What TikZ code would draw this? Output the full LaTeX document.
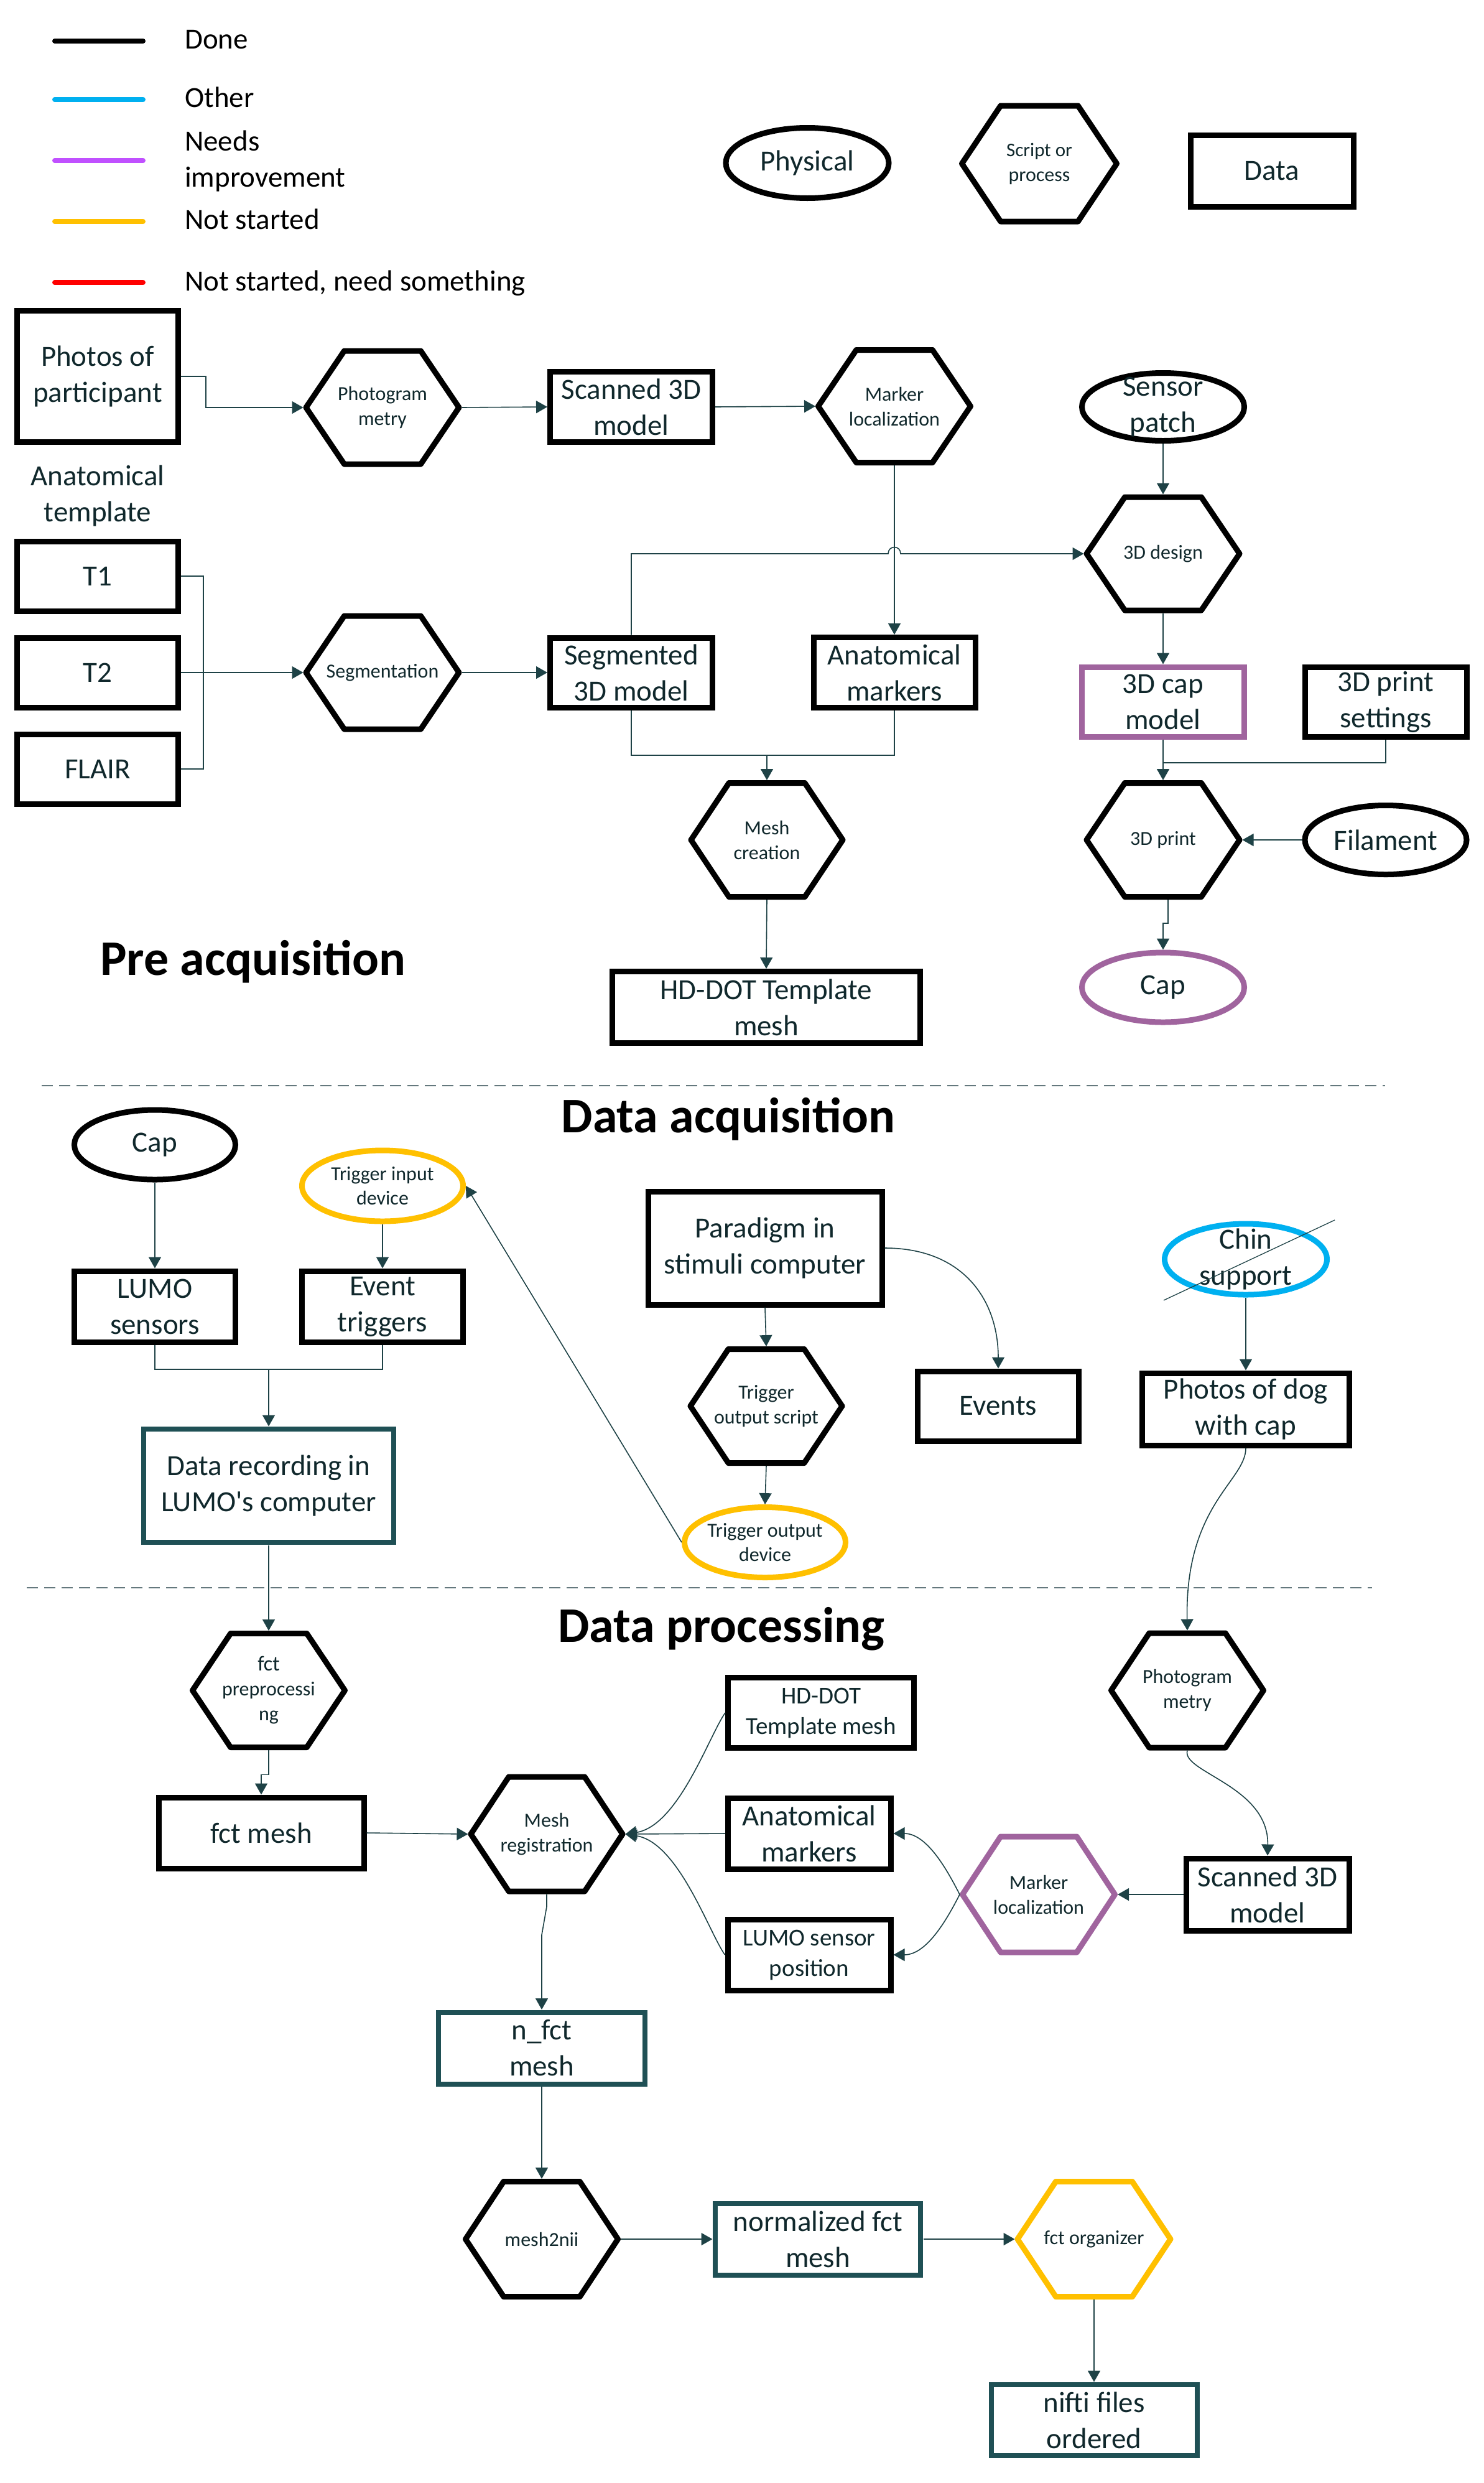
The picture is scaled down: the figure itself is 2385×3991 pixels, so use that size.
\documentclass[tikz,border=0pt]{standalone}
\usepackage{fontspec}
\setmainfont{Carlito}
\usetikzlibrary{shapes.geometric,arrows.meta,calc}
\definecolor{txtc}{RGB}{16,40,44}
\definecolor{lnc}{RGB}{30,66,70}
\definecolor{tealc}{RGB}{31,80,85}
\definecolor{purpc}{RGB}{160,100,158}
\definecolor{yelc}{RGB}{255,192,0}
\definecolor{cyanc}{RGB}{0,176,240}
\definecolor{legpurp}{RGB}{192,80,255}
\definecolor{dashc}{RGB}{100,120,125}
\newcommand\fsz[2]{\fontsize{#1pt}{#2pt}\selectfont}
\tikzset{
  box/.style={draw=black, line width=9pt, inner sep=0pt, outer sep=4.5pt, align=center, font=\fsz{47}{58}, text=txtc},
  ell/.style={ellipse, draw=black, line width=9pt, inner sep=0pt, outer sep=4.5pt},
  txt/.style={align=center, font=\fsz{47}{58}, text=txtc, inner sep=0pt},
  stxt/.style={align=center, font=\fsz{32}{39}, text=txtc, inner sep=0pt},
  hexbox/.style={rectangle, inner sep=0pt, outer sep=4.5pt, align=center, font=\fsz{32}{40}, text=txtc},
  hexline/.style={line width=9pt, line join=round},
  ln/.style={draw=lnc, line width=1.6pt},
  arr/.style={ln, -{Triangle[length=18pt,width=20pt]}},
  legline/.style={line width=8pt, line cap=round},
  legtxt/.style={font=\fsz{47}{58}, text=black, inner sep=0pt, anchor=base west},
  title/.style={font=\fsz{80}{96}\bfseries, text=black, inner sep=0pt, anchor=base},
  sepline/.style={draw=dashc, line width=2pt, dash pattern=on 18pt off 10pt},
}
\newcommand\hexnode[7]{%
  \node[hexbox, minimum width=#4-9, minimum height=#5-9] (#1) at (#2,#3) {#7};
  \draw[hexline, draw=#6] ($(#1.center)+(-#4/2+4.5,0)$) -- ++(#4/4-2.25,-#5/2+4.5) -- ++(#4/2-4.5,0)
     -- ++(#4/4-2.25,#5/2-4.5) -- ++(-#4/4+2.25,#5/2-4.5) -- ++(-#4/2+4.5,0) -- cycle;}
\begin{document}
\begin{tikzpicture}[x=1pt,y=-1pt]
\fill[white] (0,0) rectangle (2385,3991);
\useasboundingbox (0,0) rectangle (2385,3991);

% ---------------- legend ----------------
\draw[legline, black]   (88,65.8) -- (230,65.8);
\draw[legline, cyanc]   (88,160) -- (230,160);
\draw[legline, legpurp] (88,258) -- (230,258);
\draw[legline, yelc]    (88,356) -- (230,356);
\draw[legline, red]     (88,454) -- (230,454);
\node[legtxt] (lg1) at (297,78) {Done};
\node[legtxt] (lg2) at (297,172) {Other};
\node[legtxt] (lg3) at (297,242) {Needs};
\node[legtxt] (lg3b) at (297,300) {improvement};
\node[legtxt] (lg4) at (297,368) {Not started};
\node[legtxt] (lg5) at (297,467) {Not started, need something};

\node[ell, minimum width=262, minimum height=113, label={[txt]center:Physical}] (lphys) at (1298,262) {};
\hexnode{lhex}{1671}{263}{258}{195}{black}{\fsz{31}{40}Script or\\process}
\node[box, minimum width=262, minimum height=115] (ldata) at (2045,275) {Data};

% ---------------- pre acquisition ----------------
\node[box, minimum width=259, minimum height=211] (photos) at (157,605) {Photos of\\participant};
\hexnode{pg1}{615}{655}{255}{191}{black}{Photogram\\metry}
\node[box, minimum width=261, minimum height=113] (scan1) at (1015,654) {Scanned 3D\\model};
\hexnode{ml1}{1438}{653}{254}{190}{black}{Marker\\localization}
\node[ell, minimum width=261, minimum height=109, label={[txt]center:{Sensor\\patch}}] (sp) at (1870,654) {};

\node[txt] (anat) at (157,797) {Anatomical\\template};
\node[box, minimum width=259, minimum height=112] (t1) at (157,926) {T1};
\node[box, minimum width=259, minimum height=112] (t2) at (157,1081) {T2};
\node[box, minimum width=259, minimum height=112] (flair) at (157,1236) {FLAIR};
\hexnode{seg}{615}{1081}{255}{191}{black}{Segmentation}
\node[box, minimum width=261, minimum height=112] (seg3d) at (1015,1081) {Segmented\\3D model};
\hexnode{d3}{1870}{890}{255}{191}{black}{3D design}
\node[box, minimum width=260, minimum height=113] (am1) at (1438,1081) {Anatomical\\markers};
\node[box, draw=purpc, minimum width=261, minimum height=112] (cap3d) at (1870,1128) {3D cap\\model};
\node[box, minimum width=260, minimum height=112] (ps) at (2228,1128) {3D print\\settings};
\hexnode{mc}{1233}{1350}{253}{192}{black}{Mesh\\creation}
\hexnode{pr}{1870}{1350}{255}{192}{black}{3D print}
\node[ell, minimum width=260, minimum height=111, label={[txt]center:Filament}] (fil) at (2228,1350) {};
\node[ell, draw=purpc, minimum width=261, minimum height=112, label={[txt]center:Cap}] (cap1) at (1870,1587) {};
\node[box, minimum width=495, minimum height=115] (hd1) at (1232,1619) {HD-DOT Template\\mesh};
\node[title] (tpre) at (407,1567) {Pre acquisition};

% connectors pre acquisition
\coordinate (pj) at (331,655);
\draw[arr] (photos.east) -| (pj) -- (pg1.west);
\draw[arr] (pg1.east) -- (scan1.west);
\draw[arr] (scan1.east) -- (ml1.west);
\draw[arr] (ml1.south) -- (am1.north);
\draw[arr] (sp.south) -- (d3.north);
\coordinate (tj) at (327,1081);
\draw[ln] (t1.east) -| (tj);
\draw[ln] (flair.east) -| (tj);
\draw[arr] (t2.east) -- (seg.west);
\draw[arr] (seg.east) -- (seg3d.west);
\coordinate (jmp) at (ml1.south |- d3.west);
\draw[arr] (seg3d.north) |- ($(jmp)+(-10,0)$) .. controls +(0,-14) and +(0,-14) .. ($(jmp)+(10,0)$) -- (d3.west);
\coordinate (mj) at (1233,1214);
\draw[ln] (seg3d.south) |- (mj);
\draw[ln] (am1.south) |- (mj);
\draw[arr] (mj) -- (mc.north);
\draw[arr] (mc.south) -- (hd1.north);
\draw[arr] (d3.south) -- (cap3d.north);
\coordinate (cj) at (1870,1226);
\draw[ln] (cap3d.south) -- (cj);
\draw[ln] (ps.south) |- (cj);
\draw[arr] (cj) -- (pr.north);
\draw[arr] (fil.west) -- (pr.east);
\coordinate (prj) at (1878,1484);
\draw[arr] (pr.south -| prj) -- (prj) -| (cap1.north);

% separator
\draw[sepline] (67,1745) -- (2227,1745);

% ---------------- data acquisition ----------------
\node[title] (tacq) at (1171,1820) {Data acquisition};
\node[ell, minimum width=259, minimum height=112, label={[txt]center:Cap}] (cap2) at (249,1840) {};
\node[ell, draw=yelc, minimum width=259, minimum height=114, label={[stxt]center:{Trigger input\\device}}] (tid) at (615,1906) {};
\node[box, minimum width=259, minimum height=114] (lumo) at (249,2100) {LUMO\\sensors};
\node[box, minimum width=259, minimum height=114] (evt) at (615,2100) {Event\\triggers};
\node[box, draw=tealc, line width=8pt, minimum width=402, minimum height=182] (dr) at (432,2388) {Data recording in\\LUMO\textquotesingle s computer};
\node[box, minimum width=376, minimum height=182] (par) at (1230,2006) {Paradigm in\\stimuli computer};
\hexnode{tos}{1232}{2260}{253}{192}{black}{Trigger\\output script}
\node[ell, draw=yelc, minimum width=259, minimum height=113, label={[stxt]center:{Trigger output\\device}}] (tod) at (1230,2479) {};
\node[box, minimum width=259, minimum height=112] (evs) at (1605,2260) {Events};
\node[ell, draw=cyanc, minimum width=261, minimum height=114, label={[txt]center:{Chin\\support}}] (chin) at (2003,2024) {};
\node[box, minimum width=333, minimum height=116] (pdog) at (2003,2265) {Photos of dog\\with cap};

\draw[arr] (cap2.south) -- (lumo.north);
\draw[arr] (tid.south) -- (evt.north);
\coordinate (lj) at (432,2201);
\draw[ln] (lumo.south) |- (lj);
\draw[ln] (evt.south) |- (lj);
\draw[arr] (lj) -- (dr.north);
\draw[arr] (par.south) -- (tos.north);
\draw[arr] (tos.south) -- (tod.north);
\draw[arr] (tod.west) -- (tid.east);
\draw[arr] (par.east) .. controls +(127,0) and +(0,-109) .. (evs.north);
\coordinate (ch1) at ($(chin)+(-132,66)$);
\coordinate (ch2) at ($(chin)+(143,-63)$);
\draw[ln, line width=1.3pt] (ch1) -- (ch2);
\draw[arr] (chin.south) -- (pdog.north);

% separator
\draw[sepline] (43,2552) -- (2206,2552);

% ---------------- data processing ----------------
\node[title] (tproc) at (1160,2639) {Data processing};
\hexnode{fp}{432}{2717}{254}{192}{black}{\fsz{34}{44}fct\\preprocessi\\ng}
\node[box, minimum width=330, minimum height=114] (fm) at (420,2946) {fct mesh};
\hexnode{mr}{879}{2948}{253}{193}{black}{Mesh\\registration}
\node[box, font=\fsz{39}{49}, minimum width=299, minimum height=113] (hd2) at (1320,2753) {HD-DOT\\Template mesh};
\node[box, minimum width=262, minimum height=114] (am2) at (1301,2947) {Anatomical\\markers};
\node[box, font=\fsz{39}{49}, minimum width=262, minimum height=114] (lsp) at (1301,3142) {LUMO sensor\\position};
\hexnode{ml2}{1670}{3045}{254}{195}{purpc}{Marker\\localization}
\node[box, minimum width=262, minimum height=116] (scan2) at (2038,3045) {Scanned 3D\\model};
\hexnode{pg2}{1909}{2717}{254}{193}{black}{Photogram\\metry}
\node[box, draw=tealc, line width=8pt, minimum width=332, minimum height=115] (nf) at (871,3292) {n\_fct\\mesh};
\hexnode{m2n}{871}{3599}{254}{194}{black}{mesh2nii}
\node[box, draw=tealc, line width=8pt, minimum width=330, minimum height=115] (nfm) at (1315,3599) {normalized fct\\mesh};
\hexnode{fo}{1759}{3599}{255}{194}{yelc}{fct organizer}
\node[box, draw=tealc, line width=8pt, minimum width=331, minimum height=114] (nifti) at (1759,3890) {nifti files\\ordered};

\draw[arr] (dr.south) -- (fp.north);
\draw[arr] (fp.south) |- ($(fm.north)+(0,-32)$) -- (fm.north);
\draw[arr] (fm.east) -- (mr.west);
\draw[arr] (hd2.west) .. controls +(-26,37) and +(85,-13) .. (mr.east);
\draw[arr] (am2.west) -- (mr.east);
\draw[arr] (lsp.west) .. controls +(-26,-37) and +(85,13) .. (mr.east);
\draw[arr] (ml2.west) .. controls +(-18,-35) and +(55,0) .. (am2.east);
\draw[arr] (ml2.west) .. controls +(-18,35) and +(55,0) .. (lsp.east);
\draw[arr] (scan2.west) -- (ml2.east);
\draw[arr] (pdog.south) .. controls +(0,53) and +(-4,-202) .. (pg2.north);
\draw[arr] (pg2.south) .. controls +(-10,35) and +(2,-112) .. (scan2.north);
\draw[arr] (mr.south) -- ++(0,20) -- ($(nf.north)+(0,-120)$) -- (nf.north);
\draw[arr] (nf.south) -- (m2n.north);
\draw[arr] (m2n.east) -- (nfm.west);
\draw[arr] (nfm.east) -- (fo.west);
\draw[arr] (fo.south) -- (nifti.north);
\end{tikzpicture}
\end{document}
